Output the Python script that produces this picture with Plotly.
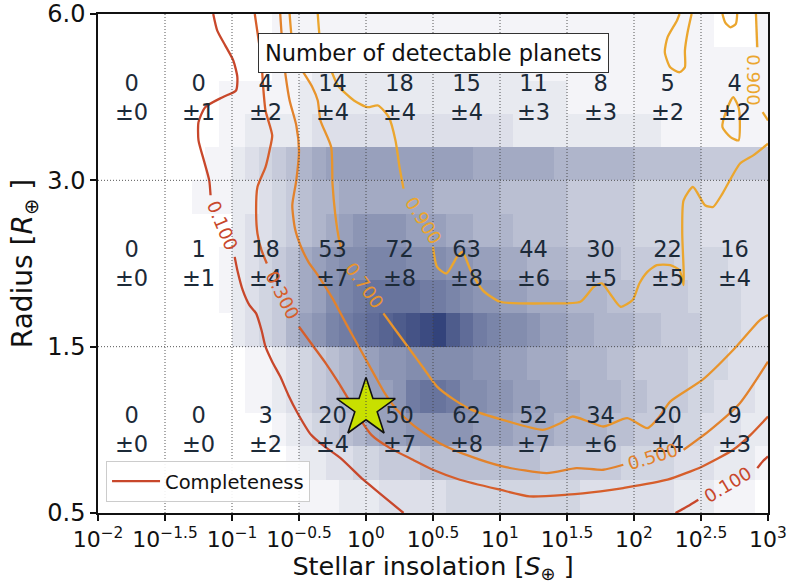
import math
import plotly.graph_objects as go

# ---------------------------------------------------------------------------
# Axes: insolation is stored as log10(S / S_earth); radius uses three bins
# (0.5-1.5, 1.5-3, 3-6 R_earth), each bin log-scaled and given equal height.
# ---------------------------------------------------------------------------
LOG_S_TICKS = [-2, -1.5, -1, -0.5, 0, 0.5, 1, 1.5, 2, 2.5, 3]
RADIUS_EDGES = [0.5, 1.5, 3.0, 6.0]
RADIUS_TICK_LABELS = ["0.5", "1.5", "3.0", "6.0"]

# Half-decade insolation bins used for the planet-count table
LOG_S_BIN_CENTRES = [-1.75, -1.25, -0.75, -0.25, 0.25, 0.75, 1.25, 1.75, 2.25, 2.75]

COUNTS_LARGE = [0, 0, 4, 14, 18, 15, 11, 8, 5, 4]        # 3.0 - 6.0 R_earth
ERRORS_LARGE = [0, 1, 2, 4, 4, 4, 3, 3, 2, 2]
COUNTS_MEDIUM = [0, 1, 18, 53, 72, 63, 44, 30, 22, 16]   # 1.5 - 3.0 R_earth
ERRORS_MEDIUM = [0, 1, 4, 7, 8, 8, 6, 5, 5, 4]
COUNTS_SMALL = [0, 0, 3, 20, 50, 62, 52, 34, 20, 9]      # 0.5 - 1.5 R_earth
ERRORS_SMALL = [0, 0, 2, 4, 7, 8, 7, 6, 4, 3]

# Fine-grained density of detectable planets: 0.1 dex in insolation,
# five sub-rows per radius bin (bottom row first), relative units 0-20.
DENSITY_ROWS = [
    "0 0 0 0 0 0 0 0 0 0 0 0 0 0 0 1 1 1 2 2 2 3 3 3 3 3 4 4 4 4 4 4 4 4 4 4 3 3 3 3 3 3 3 2 2 2 1 1 1 0",
    "0 0 0 0 0 0 0 0 0 0 0 0 0 0 1 2 2 3 3 4 4 5 5 5 6 6 6 6 6 6 6 6 6 5 5 5 5 5 5 4 4 4 4 3 3 3 2 2 2 1",
    "0 0 0 0 0 0 0 0 0 0 0 0 0 1 2 3 4 5 6 7 8 9 9 10 10 10 10 10 9 9 9 8 8 8 7 7 7 7 6 6 5 5 5 4 4 3 3 3 2 2",
    "0 0 0 0 0 0 0 0 0 0 0 1 1 2 3 4 5 6 7 8 9 9 10 13 14 14 13 11 11 10 10 9 9 8 8 8 7 7 7 6 6 5 5 5 4 4 3 3 3 2",
    "0 0 0 0 0 0 0 0 0 0 0 1 1 2 3 4 5 6 7 8 9 10 10 11 11 11 11 11 10 10 9 9 8 8 8 7 7 7 6 6 5 5 5 5 4 4 4 3 3 3",
    "0 0 0 0 0 0 0 0 0 0 2 3 4 5 7 9 10 12 13 14 15 16 17 18 19 20 17 15 13 12 11 11 10 9 9 8 8 7 7 7 6 6 5 5 5 4 4 4 3 3",
    "0 0 0 0 0 0 0 0 0 1 2 3 4 5 6 8 9 11 12 13 14 14 14 14 13 13 12 11 10 10 9 9 8 8 8 7 7 7 6 6 5 5 5 5 4 4 4 4 3 3",
    "0 0 0 0 0 0 0 0 0 1 2 3 4 5 6 8 9 10 11 11 12 12 12 11 11 11 10 10 9 9 8 8 7 7 7 6 6 6 6 5 5 5 5 4 4 4 4 3 3 3",
    "0 0 0 0 0 0 0 0 0 0 2 3 3 4 5 6 7 8 9 10 10 10 10 9 9 9 8 8 7 7 7 6 6 6 6 5 5 5 5 5 4 4 4 4 4 3 3 3 3 3",
    "0 0 0 0 0 0 0 1 1 1 2 2 3 4 5 6 7 7 8 8 8 8 8 8 8 7 7 7 7 7 6 6 6 6 6 5 5 5 5 5 4 4 4 4 4 3 3 3 3 3",
    "0 0 0 0 0 0 0 0 1 1 2 3 4 5 6 7 8 9 9 9 9 9 9 9 9 9 9 9 8 8 8 8 8 8 7 7 7 7 7 7 6 6 6 6 6 5 5 5 5 5",
    "0 0 0 0 0 0 0 0 0 1 1 2 2 2 2 2 3 3 3 3 3 3 3 3 3 3 3 3 3 3 3 2 2 2 2 2 2 2 2 2 2 2 1 1 1 1 1 1 1 1",
    "0 0 0 0 0 0 0 0 0 1 1 1 1 1 1 2 2 2 2 2 2 2 2 2 2 2 2 2 2 2 2 2 2 2 2 1 1 1 1 1 1 1 1 1 1 1 1 1 1 1",
    "0 0 0 0 0 0 0 0 0 0 0 0 0 1 1 1 2 2 2 2 2 2 2 2 2 2 2 2 2 2 2 2 1 1 1 1 1 1 1 1 1 1 1 1 1 1 1 1 1 1",
    "0 0 0 0 0 0 0 0 0 0 0 0 0 1 1 1 1 1 1 1 1 1 1 1 1 1 1 1 1 1 1 1 1 1 1 1 1 1 1 1 1 1 1 1 1 1 0 0 0 1",
]

# Completeness contours: x = log10(S), y = radius-bin coordinate (0-3).
# None marks the break left for each inline label.
COMPL_010_X = [-1.14, -1.11, -1.05, -0.99, -0.96, -0.97, -1.07, -1.20, -1.25, -1.25, -1.21, -1.17, -1.16, None,
               -0.98, -0.96, -0.92, -0.87, -0.82, -0.78, -0.75, -0.70, -0.64, -0.58, -0.51, -0.41, -0.31, -0.19,
               -0.02, 0.10, 0.25, 0.28, None, 2.31, 2.40, 2.48, None, 2.92, 2.96, 3.00]
COMPL_010_Y = [3.00, 2.90, 2.81, 2.72, 2.62, 2.54, 2.50, 2.44, 2.35, 2.24, 2.12, 2.00, 1.91, None,
               1.54, 1.46, 1.34, 1.25, 1.20, 1.10, 1.00, 0.91, 0.82, 0.71, 0.60, 0.47, 0.40, 0.33,
               0.20, 0.12, 0.02, 0.00, None, 0.00, 0.04, 0.08, None, 0.27, 0.31, 0.34]

COMPL_030_X = [-0.83, -0.81, -0.78, -0.77, -0.75, -0.70, -0.72, -0.75, -0.81, -0.82, -0.81, -0.78, -0.74, None,
               -0.50, -0.40, -0.30, -0.21, -0.12, -0.04, 0.04, 0.18, 0.35, 0.50, 0.70, 1.00, 1.22, 1.50,
               1.75, 1.92, 2.25, 2.51, 2.74, 2.87, 3.00]
COMPL_030_Y = [3.00, 2.89, 2.72, 2.59, 2.42, 2.27, 2.18, 2.08, 1.96, 1.80, 1.68, 1.58, 1.50, None,
               1.12, 1.01, 0.90, 0.79, 0.67, 0.56, 0.47, 0.39, 0.32, 0.26, 0.20, 0.14, 0.10, 0.11,
               0.13, 0.15, 0.20, 0.28, 0.38, 0.47, 0.58]

COMPL_050_X = [-0.64, -0.62, -0.60, -0.57, -0.52, -0.50, -0.52, -0.55, -0.53, -0.49, -0.43, -0.36, -0.25,
               -0.15, -0.04, 0.07, 0.14, 0.22, 0.35, 0.55, 0.78, 1.02, 1.35, 1.57, 1.77, 1.92, None,
               2.37, 2.57, 2.79, 3.00]
COMPL_050_Y = [3.00, 2.77, 2.63, 2.48, 2.33, 2.18, 2.00, 1.85, 1.71, 1.61, 1.51, 1.43, 1.29,
               1.14, 0.98, 0.82, 0.72, 0.63, 0.53, 0.42, 0.34, 0.28, 0.24, 0.27, 0.26, 0.29, None,
               0.38, 0.50, 0.66, 0.91]

COMPL_070_X = [-0.57, -0.54, -0.49, -0.40, -0.36, -0.34, -0.26, -0.25, -0.23, -0.20, -0.18, None,
               0.13, 0.22, 0.33, 0.43, 0.53, 0.66, 0.79, 1.02, 1.32, 1.45, 1.54, 1.66, 1.77, 1.95, 2.10,
               2.19, 2.27, 2.51, 2.74, 2.94, 3.00]
COMPL_070_Y = [3.00, 2.77, 2.68, 2.56, 2.48, 2.36, 2.20, 1.98, 1.80, 1.64, 1.58, None,
               1.20, 1.10, 0.98, 0.87, 0.76, 0.68, 0.62, 0.56, 0.50, 0.54, 0.58, 0.55, 0.52, 0.57, 0.51,
               0.58, 0.67, 0.80, 0.98, 1.16, 1.19]

COMPL_090_X = [-0.36, -0.33, -0.27, -0.21, -0.09, 0.01, 0.09, 0.17, 0.22, 0.25, 0.28, None,
               0.50, 0.53, 0.60, 0.68, 0.72, 0.78, 0.87, 1.00, 1.35, 1.60, 1.70, 1.76, 1.82, 1.90, 1.99,
               2.04, 2.10, 2.17, 2.27, 2.34, 2.37, 2.37, 2.36, 2.37, 2.44, 2.53, 2.59, 2.66, 2.79, 2.89, 3.00,
               None, 2.34, 2.32, 2.25, 2.23, 2.27, 2.34, 2.38, 2.38, 2.40, 2.43,
               None, 2.66, 2.68, 2.72, 2.76, 2.77,
               None, 2.74, 2.69, 2.66, 2.72, 2.78, 2.79, 2.78, 2.74,
               None, 2.91, 2.92, None, 2.96, 3.00]
COMPL_090_Y = [3.00, 2.77, 2.68, 2.57, 2.48, 2.44, 2.45, 2.38, 2.24, 2.08, 1.95, None,
               1.60, 1.48, 1.44, 1.54, 1.57, 1.46, 1.34, 1.27, 1.26, 1.27, 1.36, 1.38, 1.32, 1.24, 1.28,
               1.38, 1.45, 1.49, 1.49, 1.46, 1.37, 1.47, 1.68, 1.88, 1.96, 1.85, 1.84, 1.92, 2.10, 2.15, 2.22,
               None, 3.00, 2.96, 2.86, 2.77, 2.68, 2.65, 2.68, 2.78, 2.89, 3.00,
               None, 3.00, 2.95, 2.92, 2.94, 3.00,
               None, 2.50, 2.42, 2.32, 2.26, 2.24, 2.35, 2.44, 2.50,
               None, 3.00, 2.80, None, 2.41, 2.36]

STAR_INSOLATION = 1.0   # S_earth
STAR_RADIUS = 1.0       # R_earth


def radius_to_axis(r):
    """Map a radius onto the equal-height, log-scaled bin coordinate."""
    for i in range(len(RADIUS_EDGES) - 1):
        lo, hi = RADIUS_EDGES[i], RADIUS_EDGES[i + 1]
        if r <= hi or i == len(RADIUS_EDGES) - 2:
            return i + math.log(r / lo) / math.log(hi / lo)


def power_label(v):
    txt = str(int(v)) if float(v).is_integer() else str(v)
    return "10<sup>" + txt.replace("-", "\u2212") + "</sup>"


FONT = "DejaVu Sans"
TEXT_DARK = "#1c2a38"
LEVEL_COLOURS = {
    "0.100": "#c8472b",
    "0.300": "#d65e2b",
    "0.500": "#e2822c",
    "0.700": "#e8942c",
    "0.900": "#eba62e",
}

fig = go.Figure()

# Density heat map (cell edges in axis units); empty cells left blank
n_cols = len(DENSITY_ROWS[0].split())
x_edges = [LOG_S_TICKS[0] + 0.1 * i for i in range(n_cols + 1)]
y_edges = [0.2 * j for j in range(len(DENSITY_ROWS) + 1)]
z = [[(int(v) if int(v) > 0 else None) for v in row.split()] for row in DENSITY_ROWS]
fig.add_trace(go.Heatmap(
    x=x_edges, y=y_edges, z=z, zmin=0, zmax=20,
    colorscale=[[0, "#ffffff"], [0.5, "#8c95b4"], [1, "#33437b"]],
    showscale=False, hoverinfo="skip", hoverongaps=False,
))

# Completeness contours
contours = [
    ("0.100", COMPL_010_X, COMPL_010_Y),
    ("0.300", COMPL_030_X, COMPL_030_Y),
    ("0.500", COMPL_050_X, COMPL_050_Y),
    ("0.700", COMPL_070_X, COMPL_070_Y),
    ("0.900", COMPL_090_X, COMPL_090_Y),
]
for i, (lvl, xs, ys) in enumerate(contours):
    fig.add_trace(go.Scatter(
        x=xs, y=ys, mode="lines", connectgaps=False,
        line=dict(color=LEVEL_COLOURS[lvl], width=2.3, shape="spline", smoothing=0.6),
        name="Completeness", showlegend=(i == 0), hoverinfo="skip",
    ))

# Reference star (Earth-like planet)
fig.add_trace(go.Scatter(
    x=[math.log10(STAR_INSOLATION)], y=[radius_to_axis(STAR_RADIUS)],
    mode="markers", showlegend=False, hoverinfo="skip",
    marker=dict(symbol="star", size=44, color="#c8e000",
                line=dict(color="#111111", width=1.6)),
))

annotations = []

# Count table text: count on the first line, uncertainty on the second
for yc, counts, errs in [(2.5, COUNTS_LARGE, ERRORS_LARGE),
                         (1.5, COUNTS_MEDIUM, ERRORS_MEDIUM),
                         (0.5, COUNTS_SMALL, ERRORS_SMALL)]:
    for xc, c, e in zip(LOG_S_BIN_CENTRES, counts, errs):
        annotations.append(dict(x=xc, y=yc, text=f"{c}<br>\u00b1{e}", showarrow=False,
                                font=dict(family=FONT, size=22.5, color=TEXT_DARK)))

# Inline contour labels
for lvl, xl, yl, ang in [("0.100", -1.07, 1.73, 67), ("0.300", -0.62, 1.31, 63),
                         ("0.700", -0.01, 1.37, 54), ("0.900", 0.43, 1.76, 58),
                         ("0.500", 2.14, 0.34, -17), ("0.100", 2.70, 0.17, -31),
                         ("0.900", 2.89, 2.60, 90)]:
    annotations.append(dict(x=xl, y=yl, text=lvl, showarrow=False, textangle=ang,
                            font=dict(family=FONT, size=18, color=LEVEL_COLOURS[lvl])))

# Panel title box
annotations.append(dict(
    x=0.5, y=0.961, xref="paper", yref="paper", showarrow=False,
    text="Number of detectable planets",
    font=dict(family=FONT, size=22.5, color="#111111"),
    bgcolor="white", bordercolor="#333333", borderwidth=1, borderpad=6,
))

# Dotted grid drawn above the heat map
shapes = []
for xv in LOG_S_TICKS[1:-1]:
    shapes.append(dict(type="line", xref="x", yref="paper", x0=xv, x1=xv, y0=0, y1=1,
                       line=dict(color="#444444", width=0.9, dash="1px,2px"), layer="above"))
for yv in range(1, len(RADIUS_EDGES) - 1):
    shapes.append(dict(type="line", xref="paper", yref="y", x0=0, x1=1, y0=yv, y1=yv,
                       line=dict(color="#444444", width=0.9, dash="1px,2px"), layer="above"))

fig.update_layout(
    width=789, height=584,
    margin=dict(l=98, r=21, t=14, b=71, autoexpand=False),
    paper_bgcolor="white", plot_bgcolor="white",
    font=dict(family=FONT, color="#111111"),
    annotations=annotations, shapes=shapes,
    legend=dict(x=0.012, y=0.022, xanchor="left", yanchor="bottom", itemwidth=48,
                bgcolor="rgba(255,255,255,0.9)", bordercolor="#cccccc", borderwidth=1,
                font=dict(family=FONT, size=19.5, color="#111111")),
    xaxis=dict(
        range=[LOG_S_TICKS[0], LOG_S_TICKS[-1]],
        tickvals=LOG_S_TICKS, ticktext=[power_label(v) for v in LOG_S_TICKS],
        tickfont=dict(family=FONT, size=22, color="#111111"),
        ticks="outside", ticklen=6, tickwidth=1.5, tickcolor="#111111",
        showgrid=False, zeroline=False,
        showline=True, linecolor="#111111", linewidth=1.5, mirror=True,
        title=dict(text="Stellar insolation [<i>S</i><sub>\u2295</sub> ]",
                   font=dict(family=FONT, size=25.5, color="#111111"), standoff=10),
    ),
    yaxis=dict(
        range=[0, len(RADIUS_EDGES) - 1],
        tickvals=[radius_to_axis(r) for r in RADIUS_EDGES], ticktext=RADIUS_TICK_LABELS,
        tickfont=dict(family=FONT, size=24, color="#111111"),
        ticks="outside", ticklen=6, tickwidth=1.5, tickcolor="#111111",
        showgrid=False, zeroline=False,
        showline=True, linecolor="#111111", linewidth=1.5, mirror=True,
        title=dict(text="Radius [<i>R</i><sub>\u2295</sub> ]",
                   font=dict(family=FONT, size=28, color="#111111"), standoff=6),
    ),
)

fig.write_html("out.html")
